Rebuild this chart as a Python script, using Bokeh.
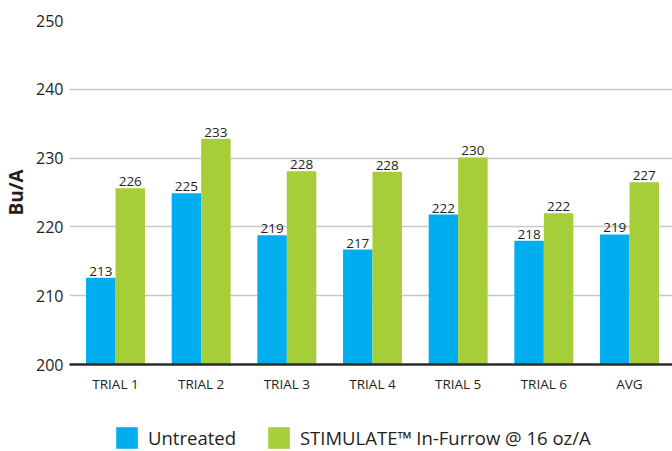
from bokeh.plotting import figure
from bokeh.models import ColumnDataSource, FixedTicker, Range1d, Legend, LegendItem, LabelSet
from bokeh.layouts import column
from bokeh.embed import file_html
from bokeh.resources import INLINE
from bokeh.core.properties import value

categories = ["TRIAL 1", "TRIAL 2", "TRIAL 3", "TRIAL 4", "TRIAL 5", "TRIAL 6", "AVG"]
untreated = [212.6, 224.9, 218.8, 216.7, 221.8, 218.0, 218.9]
stimulate = [225.6, 232.8, 228.1, 228.0, 230.1, 222.0, 226.5]
untreated_labels = ["213", "225", "219", "217", "222", "218", "219"]
stimulate_labels = ["226", "233", "228", "228", "230", "222", "227"]
y_ticks = [200, 210, 220, 230, 240, 250]
series_names = ["Untreated", "STIMULATE\u2122 In-Furrow @ 16 oz/A"]

BLUE = "#00AEEF"
GREEN = "#A6CE39"
TXT = "#231F20"
FONT = "Open Sans"

xs = list(range(len(categories)))
off = 0.172
src_u = ColumnDataSource(dict(x=[i - off for i in xs], top=untreated, lab=untreated_labels))
src_s = ColumnDataSource(dict(x=[i + off for i in xs], top=stimulate, lab=stimulate_labels))

p = figure(width=672, height=419, output_backend="svg", toolbar_location=None,
           x_range=Range1d(-0.537, 6.502), y_range=Range1d(200, 250))
p.min_border_top = 20
p.min_border_right = 0
p.min_border_left = 0
p.min_border_bottom = 55
p.outline_line_color = None

p.vbar(x="x", top="top", bottom=200, width=0.344, source=src_u, color=BLUE, line_color=None)
p.vbar(x="x", top="top", bottom=200, width=0.344, source=src_s, color=GREEN, line_color=None)

for s in (src_u, src_s):
    p.add_layout(LabelSet(x="x", y="top", text="lab", source=s, text_align="center",
                          text_baseline="bottom", y_offset=2, text_font_size="13.5px",
                          text_color=TXT, text_font=value(FONT)))

# axes
p.xaxis.ticker = FixedTicker(ticks=xs)
p.xaxis.major_label_overrides = {i: c for i, c in enumerate(categories)}
p.xaxis.major_label_text_font = FONT
p.xaxis.major_label_text_font_size = "13.5px"
p.xaxis.major_label_text_color = TXT
p.xaxis.axis_line_color = "#2b2b2b"
p.xaxis.axis_line_width = 2.5
p.xaxis.major_tick_line_color = None
p.xaxis.minor_tick_line_color = None
p.xaxis.major_label_standoff = 4

p.yaxis.ticker = FixedTicker(ticks=y_ticks)
p.yaxis.axis_line_color = None
p.yaxis.major_tick_line_color = None
p.yaxis.minor_tick_line_color = None
p.yaxis.major_label_text_font = FONT
p.yaxis.major_label_text_font_size = "16px"
p.yaxis.major_label_text_color = TXT
p.yaxis.major_label_standoff = 0
p.yaxis.axis_label = "Bu/A"
p.yaxis.axis_label_text_font = FONT
p.yaxis.axis_label_text_font_style = "bold"
p.yaxis.axis_label_text_font_size = "19px"
p.yaxis.axis_label_text_color = TXT
p.yaxis.axis_label_standoff = 4

p.xgrid.grid_line_color = None
p.ygrid.grid_line_color = "#c8c8c8"
p.ygrid.grid_line_width = 1.5

# legend strip
q = figure(width=672, height=32, output_backend="svg", toolbar_location=None,
           x_axis_type=None, y_axis_type=None, x_range=Range1d(0, 1), y_range=Range1d(0, 1))
q.min_border = 0
q.outline_line_color = None
q.xgrid.visible = False
q.ygrid.visible = False
g1 = q.rect(x=[-5], y=[-5], width=1, height=1, color=BLUE, line_color=None)
g2 = q.rect(x=[-5], y=[-5], width=1, height=1, color=GREEN, line_color=None)
legend = Legend(items=[LegendItem(label=series_names[0], renderers=[g1]),
                       LegendItem(label=series_names[1], renderers=[g2])],
                orientation="horizontal", location=(44, 0),
                glyph_width=27, glyph_height=27, label_standoff=8, spacing=29,
                label_text_font=FONT, label_text_font_size="18.5px",
                label_text_color=TXT, border_line_color=None, background_fill_alpha=0,
                padding=0, margin=0, label_height=27)
q.add_layout(legend, "center")

layout = column(p, q, spacing=0)
open("out.html", "w").write(file_html(layout, INLINE))
